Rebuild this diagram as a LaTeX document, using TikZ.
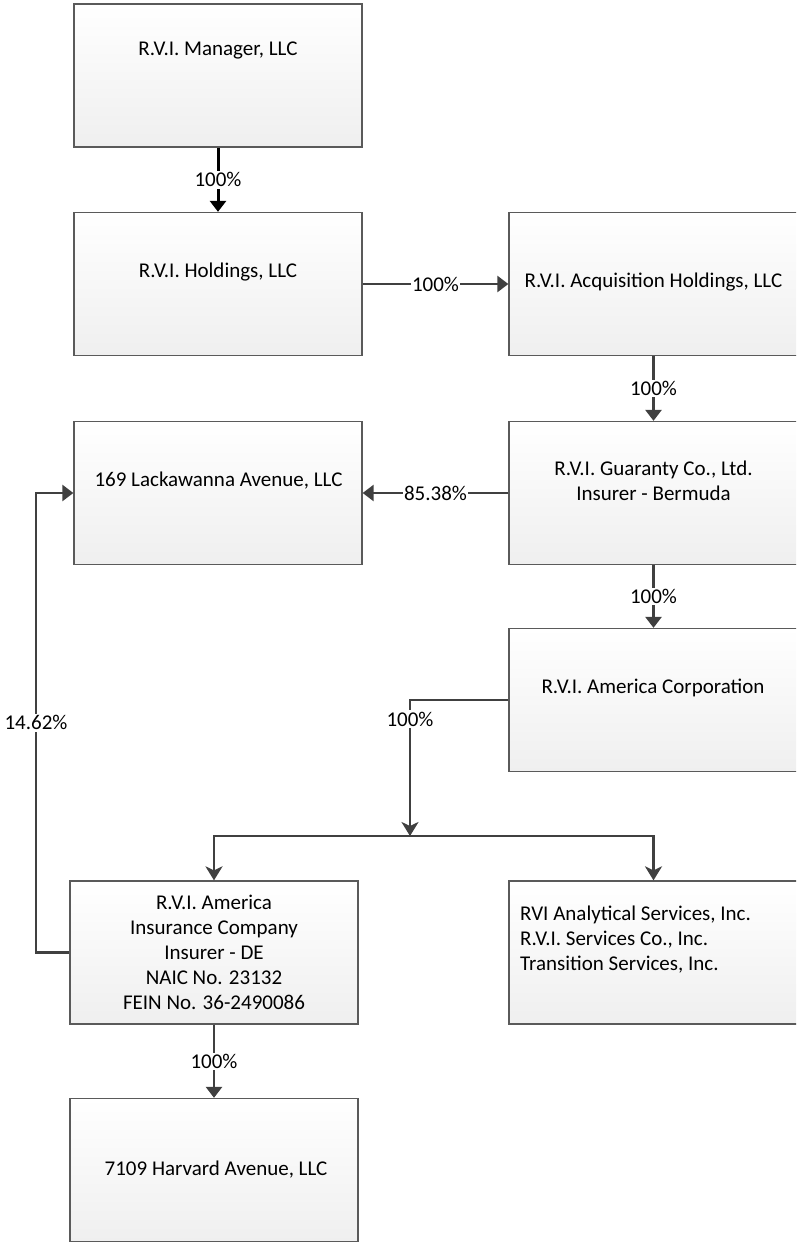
\documentclass[tikz,border=0pt]{standalone}
\usepackage{fontspec}
\setmainfont{Carlito}
\usetikzlibrary{arrows.meta}
\definecolor{bordergray}{HTML}{5A5A5A}
\definecolor{linegray}{HTML}{404040}
\definecolor{boxbottom}{HTML}{EFEFEF}
\begin{document}
\begin{tikzpicture}[x=1pt,y=-1pt,
  box/.style={draw=bordergray, line width=1.3pt, top color=white, bottom color=boxbottom,
    minimum width=288pt, minimum height=143pt, inner sep=0pt},
  txt/.style={font=\fontsize{21}{25}\selectfont, align=center, inner sep=0pt},
  conn/.style={draw=linegray, line width=2.6pt, -{Triangle[width=16pt,length=11pt]}},
  conntwo/.style={draw=linegray, line width=2.6pt, -{Stealth[width=17pt,length=14pt,inset=4pt]}},
  lbl/.style={font=\fontsize{21}{25}\selectfont, fill=white, inner sep=1.5pt, text=black}]
\useasboundingbox (0,0) rectangle (796,1242);
\clip (0,0) rectangle (796,1242);

% boxes
\node[box] (b1) at (218,75.5) {};
\node[box] (b2) at (218,284) {};
\node[box, minimum width=289pt] (b3) at (653.5,284) {};
\node[box] (b4) at (218,493) {};
\node[box, minimum width=289pt] (b5) at (653.5,493) {};
\node[box, minimum width=289pt] (b6) at (653.5,700) {};
\node[box] (b7) at (214,952.5) {};
\node[box, minimum width=289pt] (b8) at (653.5,952.5) {};
\node[box] (b9) at (214,1170) {};

% texts
\node[txt] (t1) at (218,50) {R.V.I. Manager, LLC};
\node[txt] (t2) at (218,272) {R.V.I. Holdings, LLC};
\node[txt] (t3) at (653.5,282) {R.V.I. Acquisition Holdings, LLC};
\node[txt] (t4) at (218.5,481) {169 Lackawanna Avenue, LLC};
\node[txt] (t5) at (653.5,481) {R.V.I. Guaranty Co., Ltd.\\Insurer - Bermuda};
\node[txt] (t6) at (653,688) {R.V.I. America Corporation};
\node[txt] (t7) at (214,952.5) {R.V.I. America\\Insurance Company\\Insurer - DE\\NAIC No. 23132\\FEIN No. 36-2490086};
\node[txt, align=left, anchor=west] (t8) at (520,940) {RVI Analytical Services, Inc.\\R.V.I. Services Co., Inc.\\Transition Services, Inc.};
\node[txt] (t9) at (216,1170) {7109 Harvard Avenue, LLC};

% connectors
\draw[conn, draw=black, line width=3pt] (b1) -- node[lbl]{100\%} (b2);
\draw[conn] (b2) -- node[lbl]{100\%} (b3);
\draw[conn] (b3) -- node[lbl]{100\%} (b5);
\draw[conn] (b5) -- node[lbl]{85.38\%} (b4);
\draw[conn] (b5) -- node[lbl]{100\%} (b6);

\coordinate (j) at (410,836);
\draw[conntwo] (b6.west) -| node[lbl, pos=0.57]{100\%} (j);
\draw[conntwo] (j) -| (b7);
\draw[conntwo] (j) -| (b8);

\coordinate (lft) at (36,952.5);
\draw[conn] (b7.west) -- (lft) |- node[lbl, pos=0.25]{14.62\%} (b4.west);

\draw[conn] (b7) -- node[lbl]{100\%} (b9);
\end{tikzpicture}
\end{document}
